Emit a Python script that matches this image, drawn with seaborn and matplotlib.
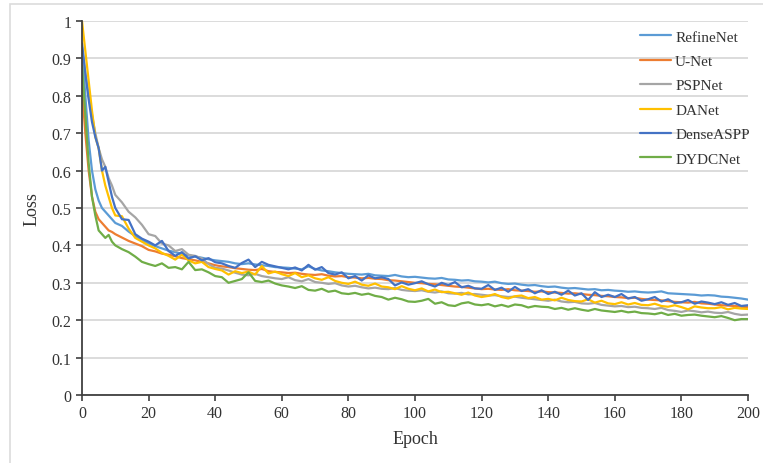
import pandas as pd
import seaborn as sns
from matplotlib import pyplot as plt
from matplotlib.patches import Rectangle

# epochs: every epoch up to 10, then every 2nd epoch
epochs = list(range(0, 11)) + list(range(12, 201, 2))

refinenet = [0.93, 0.80, 0.68, 0.60, 0.55, 0.52, 0.50, 0.49, 0.48, 0.47, 0.46,
             0.452, 0.437, 0.425, 0.415, 0.405, 0.398, 0.392, 0.386, 0.382, 0.377,
             0.373, 0.370, 0.367, 0.363, 0.360, 0.358, 0.356, 0.352, 0.350, 0.352,
             0.349, 0.347, 0.345, 0.342, 0.341, 0.340, 0.338, 0.336, 0.344, 0.337,
             0.333, 0.331, 0.328, 0.326, 0.324, 0.323, 0.322, 0.324, 0.320, 0.319,
             0.318, 0.321, 0.317, 0.315, 0.316, 0.314, 0.312, 0.311, 0.313, 0.309,
             0.308, 0.306, 0.307, 0.304, 0.303, 0.301, 0.303, 0.299, 0.297, 0.298,
             0.295, 0.293, 0.294, 0.291, 0.289, 0.290, 0.287, 0.285, 0.286, 0.284,
             0.282, 0.283, 0.280, 0.281, 0.279, 0.278, 0.276, 0.277, 0.275, 0.274,
             0.275, 0.277, 0.272, 0.271, 0.270, 0.269, 0.268, 0.266, 0.267, 0.266,
             0.263, 0.262, 0.260, 0.258, 0.255]

unet = [0.82, 0.70, 0.60, 0.53, 0.49, 0.47, 0.46, 0.45, 0.44, 0.436, 0.430,
        0.421, 0.412, 0.405, 0.398, 0.388, 0.384, 0.378, 0.375, 0.371, 0.366,
        0.363, 0.360, 0.356, 0.352, 0.347, 0.344, 0.342, 0.339, 0.337, 0.335,
        0.334, 0.337, 0.331, 0.329, 0.328, 0.326, 0.327, 0.324, 0.322, 0.321,
        0.323, 0.319, 0.317, 0.318, 0.315, 0.314, 0.312, 0.313, 0.311, 0.310,
        0.307, 0.306, 0.304, 0.302, 0.300, 0.299, 0.297, 0.296, 0.294, 0.292,
        0.290, 0.289, 0.287, 0.285, 0.283, 0.284, 0.282, 0.281, 0.283, 0.280,
        0.279, 0.278, 0.276, 0.277, 0.275, 0.274, 0.273, 0.271, 0.272, 0.270,
        0.268, 0.267, 0.265, 0.264, 0.262, 0.261, 0.259, 0.260, 0.257, 0.255,
        0.254, 0.253, 0.251, 0.249, 0.248, 0.247, 0.249, 0.245, 0.244, 0.242,
        0.240, 0.239, 0.238, 0.236, 0.235]

pspnet = [0.93, 0.86, 0.80, 0.75, 0.70, 0.66, 0.63, 0.61, 0.58, 0.56, 0.535,
          0.515, 0.49, 0.475, 0.455, 0.43, 0.425, 0.405, 0.40, 0.385, 0.39,
          0.375, 0.372, 0.365, 0.35, 0.34, 0.338, 0.333, 0.327, 0.322, 0.32,
          0.324, 0.318, 0.315, 0.312, 0.31, 0.315, 0.307, 0.304, 0.310, 0.302,
          0.300, 0.297, 0.299, 0.293, 0.29, 0.292, 0.288, 0.285, 0.287, 0.284,
          0.283, 0.286, 0.281, 0.279, 0.278, 0.280, 0.276, 0.274, 0.277, 0.272,
          0.271, 0.273, 0.269, 0.270, 0.268, 0.266, 0.267, 0.264, 0.262, 0.263,
          0.260, 0.258, 0.256, 0.254, 0.252, 0.255, 0.250, 0.248, 0.249, 0.245,
          0.244, 0.246, 0.241, 0.239, 0.237, 0.238, 0.235, 0.236, 0.233, 0.232,
          0.230, 0.233, 0.227, 0.225, 0.222, 0.226, 0.224, 0.221, 0.223, 0.220,
          0.219, 0.222, 0.217, 0.214, 0.215]

danet = [1.0, 0.92, 0.84, 0.76, 0.69, 0.66, 0.60, 0.56, 0.53, 0.50, 0.48,
         0.478, 0.445, 0.42, 0.41, 0.40, 0.392, 0.38, 0.372, 0.362, 0.375,
         0.36, 0.352, 0.356, 0.342, 0.337, 0.333, 0.322, 0.331, 0.326, 0.33,
         0.322, 0.345, 0.325, 0.33, 0.323, 0.318, 0.326, 0.315, 0.32, 0.312,
         0.308, 0.315, 0.305, 0.300, 0.297, 0.303, 0.295, 0.292, 0.298, 0.29,
         0.288, 0.283, 0.291, 0.284, 0.28, 0.285, 0.277, 0.282, 0.275, 0.276,
         0.272, 0.268, 0.274, 0.266, 0.262, 0.265, 0.270, 0.262, 0.258, 0.264,
         0.266, 0.259, 0.262, 0.255, 0.257, 0.253, 0.260, 0.254, 0.251, 0.250,
         0.256, 0.247, 0.252, 0.245, 0.243, 0.248, 0.242, 0.246, 0.241, 0.24,
         0.244, 0.238, 0.236, 0.240, 0.235, 0.229, 0.237, 0.234, 0.232, 0.232,
         0.235, 0.229, 0.233, 0.231, 0.23]

denseaspp = [0.94, 0.86, 0.79, 0.73, 0.69, 0.66, 0.60, 0.61, 0.57, 0.53, 0.50,
             0.47, 0.468, 0.43, 0.418, 0.41, 0.40, 0.412, 0.385, 0.372, 0.382,
             0.365, 0.371, 0.360, 0.366, 0.355, 0.352, 0.345, 0.340, 0.353, 0.362,
             0.342, 0.356, 0.348, 0.344, 0.340, 0.336, 0.341, 0.333, 0.348, 0.335,
             0.342, 0.326, 0.322, 0.328, 0.312, 0.318, 0.306, 0.320, 0.312, 0.315,
             0.310, 0.293, 0.301, 0.295, 0.299, 0.304, 0.296, 0.290, 0.300, 0.294,
             0.302, 0.288, 0.292, 0.285, 0.284, 0.294, 0.281, 0.287, 0.276, 0.289,
             0.278, 0.283, 0.272, 0.280, 0.270, 0.276, 0.268, 0.279, 0.266, 0.272,
             0.254, 0.275, 0.262, 0.268, 0.262, 0.270, 0.258, 0.262, 0.252, 0.256,
             0.262, 0.250, 0.256, 0.246, 0.248, 0.254, 0.244, 0.250, 0.247, 0.243,
             0.248, 0.241, 0.246, 0.238, 0.24]

dydcnet = [0.88, 0.75, 0.62, 0.53, 0.48, 0.44, 0.43, 0.42, 0.428, 0.41, 0.40,
           0.39, 0.382, 0.37, 0.356, 0.35, 0.345, 0.352, 0.34, 0.342, 0.336,
           0.356, 0.334, 0.336, 0.328, 0.318, 0.315, 0.300, 0.305, 0.310, 0.328,
           0.305, 0.302, 0.306, 0.298, 0.293, 0.29, 0.286, 0.291, 0.281, 0.279,
           0.284, 0.276, 0.279, 0.272, 0.270, 0.273, 0.268, 0.271, 0.265, 0.262,
           0.255, 0.260, 0.256, 0.250, 0.249, 0.252, 0.257, 0.244, 0.248, 0.24,
           0.238, 0.245, 0.248, 0.242, 0.240, 0.243, 0.237, 0.241, 0.236, 0.242,
           0.240, 0.234, 0.238, 0.236, 0.235, 0.230, 0.233, 0.228, 0.232, 0.228,
           0.225, 0.230, 0.226, 0.224, 0.222, 0.225, 0.221, 0.223, 0.219, 0.218,
           0.216, 0.220, 0.214, 0.217, 0.212, 0.214, 0.215, 0.212, 0.210, 0.208,
           0.211, 0.206, 0.200, 0.203, 0.203]

models = ["RefineNet", "U-Net", "PSPNet", "DANet", "DenseASPP", "DYDCNet"]
colors = ["#5B9BD5", "#ED7D31", "#A5A5A5", "#FFC000", "#4472C4", "#70AD47"]
series = [refinenet, unet, pspnet, danet, denseaspp, dydcnet]

df = pd.concat(
    [pd.DataFrame({"Epoch": epochs, "Loss": vals, "Model": name})
     for name, vals in zip(models, series)],
    ignore_index=True,
)

sns.set_style("white")
plt.rcParams["font.family"] = ["Liberation Serif", "DejaVu Serif"]

fig = plt.figure(figsize=(7.63, 4.64), dpi=100)
ax = fig.add_axes([82 / 763, 1 - 396 / 464, 666 / 763, 374 / 464])

# light frame around the whole figure
fig.patches.append(Rectangle((10 / 763, -0.1), 1.2, 1 - 5 / 464 + 0.1,
                             transform=fig.transFigure, fill=False,
                             edgecolor="#dcdcdc", linewidth=1.2))

sns.lineplot(data=df, x="Epoch", y="Loss", hue="Model", hue_order=models,
             palette=colors, linewidth=1.6, ax=ax)

ax.set_xlim(0, 200)
ax.set_ylim(0, 1)
ax.set_xticks(range(0, 201, 20))
ax.set_yticks([i / 10 for i in range(11)])
ax.set_yticklabels(["0", "0.1", "0.2", "0.3", "0.4", "0.5", "0.6", "0.7", "0.8", "0.9", "1"])
ax.yaxis.grid(True, color="#d9d9d9", linewidth=1.3)
ax.set_axisbelow(True)
for side in ["top", "right"]:
    ax.spines[side].set_visible(False)
for side in ["left", "bottom"]:
    ax.spines[side].set_color("#404040")
    ax.spines[side].set_linewidth(1.3)
ax.tick_params(axis="both", direction="out", length=4, width=1.2, color="#404040",
               labelsize=11.5, labelcolor="#333333", left=True, bottom=True)
ax.set_xlabel("Epoch", fontsize=13, color="#333333", labelpad=6)
ax.set_ylabel("Loss", fontsize=13, color="#333333", labelpad=8)

ax.legend(loc="upper left", bbox_to_anchor=(640 / 763, 1 - 31 / 464),
          bbox_transform=fig.transFigure, frameon=False, fontsize=11,
          handlelength=2.0, handletextpad=0.3, labelspacing=0.7,
          labelcolor="#333333", borderaxespad=0, borderpad=0)

plt.savefig("out.png", dpi=100)
